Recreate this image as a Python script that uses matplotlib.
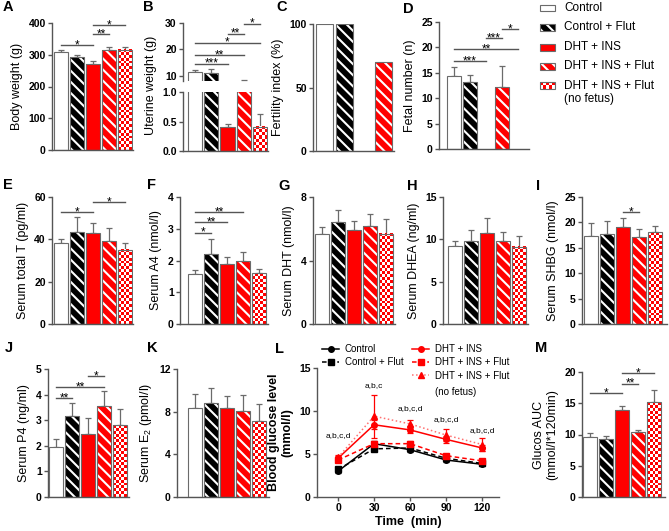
import numpy as np
import matplotlib
matplotlib.use("Agg")
import matplotlib.pyplot as plt
from matplotlib.colors import ListedColormap

plt.rcParams['font.family'] = ['Liberation Sans', 'DejaVu Sans']
plt.rcParams['hatch.linewidth'] = 1.5
plt.rcParams['mathtext.default'] = 'regular'

W, H = 669, 531
EDGE = '#6b6b6b'
AXC = '#555555'
RED = '#ff0000'

# groups / bar styles
groups = ["Control", "Control + Flut", "DHT + INS", "DHT + INS + Flut", "DHT + INS + Flut\n(no fetus)"]
styles = ["ctrl", "ctrl_flut", "dht", "dht_flut", "nofetus"]

# bar panel data (mean, SEM)
body_w = [308, 292, 270, 316, 316]
body_w_err = [8, 8, 9, 8, 8]
uter_w = [11.5, 11.1, 0.41, 2.0, 0.41]
uter_w_err = [0.6, 1.4, 0.05, 6.5, 0.21]
fert_idx = [100, 100, None, 70]
fetal_n = [14.4, 13.2, None, 12.2, None]
fetal_n_err = [1.8, 1.4, None, 4.1, None]
total_t = [38.3, 43.5, 43.1, 39.3, 35.0]
total_t_err = [1.8, 7.1, 4.5, 6.2, 3.4]
a4 = [1.57, 2.2, 1.89, 2.0, 1.6]
a4_err = [0.12, 0.48, 0.22, 0.28, 0.14]
dht_s = [5.66, 6.4, 5.9, 6.2, 5.7]
dht_s_err = [0.45, 0.8, 0.6, 0.7, 0.9]
dhea = [9.2, 9.8, 10.7, 9.8, 9.1]
dhea_err = [0.6, 1.3, 1.8, 1.1, 1.3]
shbg = [17.3, 17.7, 19.1, 17.1, 18.1]
shbg_err = [2.6, 2.6, 1.8, 1.6, 1.2]
p4 = [1.96, 3.17, 2.46, 3.57, 2.8]
p4_err = [0.31, 0.5, 0.62, 0.59, 0.64]
e2 = [8.3, 8.8, 8.3, 8.1, 7.1]
e2_err = [1.4, 1.4, 1.2, 1.5, 1.6]
auc = [9.6, 9.3, 13.9, 10.4, 15.2]
auc_err = [0.6, 0.5, 0.6, 0.3, 2.0]

# glucose tolerance test
time_min = [0, 30, 60, 90, 120]
glc_ctrl = [3.0, 6.2, 5.5, 4.3, 3.8]
glc_ctrl_err = [0.2, 0.3, 0.3, 0.2, 0.2]
glc_ctrl_flut = [3.2, 5.6, 5.7, 4.5, 3.9]
glc_ctrl_flut_err = [0.2, 0.3, 0.3, 0.2, 0.2]
glc_dht = [4.5, 8.4, 7.8, 6.7, 5.7]
glc_dht_err = [0.3, 0.5, 0.4, 0.4, 0.4]
glc_dht_flut = [4.3, 6.2, 6.2, 4.8, 4.2]
glc_dht_flut_err = [0.2, 0.3, 0.3, 0.2, 0.2]
glc_nofetus = [4.6, 9.4, 8.5, 7.2, 6.1]
glc_nofetus_err = [0.3, 2.5, 0.5, 0.7, 0.8]
glc_letters = ["a,b,c,d", "a,b,c", "a,b,c,d", "a,b,c,d", "a,b,c,d"]
glc_letters_y = [6.7, 12.5, 9.9, 8.6, 7.3]

# significance brackets (group1, group2, level, stars)
sig_body = [(0, 2, 331, '*'), (2, 3, 365, '**'), (2, 4, 394, '*')]
sig_uter = [(0, 2, 14.5, '***'), (0, 3, 17.9, '**'), (0, 4, 22.5, '*'), (2, 3, 26, '**'), (3, 4, 29.8, '*')]
sig_fetal = [(0, 2, 17.3, '***'), (0, 4, 19.7, '**'), (2, 3, 21.8, '***'), (3, 4, 23.6, '*')]
sig_t = [(0, 2, 52.8, '*'), (2, 4, 57.6, '*')]
sig_a4 = [(0, 1, 2.87, '*'), (0, 2, 3.2, '**'), (0, 3, 3.53, '**')]
sig_shbg = [(2, 3, 22, '*')]
sig_p4 = [(0, 1, 3.87, '**'), (0, 3, 4.3, '**'), (2, 3, 4.73, '*')]
sig_auc = [(0, 2, 16.6, '*'), (2, 3, 18.1, '**'), (2, 4, 19.8, '*')]


def px_axes(fig, left, top, right, bottom):
    return fig.add_axes([left / W, 1 - bottom / H, (right - left) / W, (bottom - top) / H])


def style_axes(ax, xlim, ylim, yticks, fmt="{:g}"):
    ax.set_xlim(*xlim)
    ax.set_ylim(*ylim)
    ax.set_yticks(yticks, labels=[fmt.format(t) for t in yticks], fontweight='bold')
    ax.set_xticks([])
    for s in ['top', 'right']:
        ax.spines[s].set_visible(False)
    for s in ['left', 'bottom']:
        ax.spines[s].set_color(AXC)
        ax.spines[s].set_linewidth(1)
    ax.tick_params(axis='y', colors=AXC, labelcolor='black', length=3, width=1, labelsize=7.5, pad=1.5)
    ax.patch.set_alpha(0)


def draw_bar(ax, x, h, w, style, bottom=0):
    face = {'ctrl': 'white', 'ctrl_flut': 'black', 'dht': RED, 'dht_flut': RED, 'nofetus': RED}[style]
    if style in ('ctrl_flut', 'dht_flut'):
        ax.bar(x, h, w, bottom=bottom, color=face, edgecolor='white', hatch='\\' * 3, linewidth=0, zorder=2)
    elif style == 'nofetus':
        # checkerboard fill, ~3 px cells
        x0, y0 = ax.transData.transform((x - w / 2, bottom))
        x1, y1 = ax.transData.transform((x + w / 2, bottom + h))
        nx = max(1, int(round(abs(x1 - x0) / 2.9)))
        ny = max(1, int(round(abs(y1 - y0) / 2.9)))
        board = np.indices((ny, nx)).sum(axis=0) % 2
        ax.imshow(board, cmap=ListedColormap([RED, 'white']), extent=(x - w / 2, x + w / 2, bottom, bottom + h),
                  origin='lower', aspect='auto', interpolation='nearest', zorder=2)
    else:
        ax.bar(x, h, w, bottom=bottom, color=face, linewidth=0, zorder=2)
    ax.bar(x, h, w, bottom=bottom, fill=False, edgecolor=EDGE, linewidth=0.8, zorder=3)


def bar_panel(ax, vals, errs=None, width=0.87):
    for i, v in enumerate(vals):
        if v is None:
            continue
        draw_bar(ax, i, v, width, styles[i])
        if errs is not None and errs[i]:
            ax.errorbar(i, v, yerr=[[0], [errs[i]]], fmt='none', ecolor=EDGE, elinewidth=0.9,
                        capsize=2.5, capthick=0.9, zorder=1.5)


def add_sig(ax, sigs):
    for g1, g2, y, txt in sigs:
        ax.plot([g1, g2], [y, y], color=AXC, lw=1, clip_on=False, zorder=4)
        ax.annotate(txt, xy=((g1 + g2) / 2, y), xytext=(0, -2.2), textcoords='offset points',
                    ha='center', va='baseline', fontsize=8.5, annotation_clip=False)


fig = plt.figure(figsize=(W / 100, H / 100), dpi=100)

# A
ax = px_axes(fig, 52, 23, 133, 150)
style_axes(ax, (-0.56, 4.5), (0, 400), [0, 100, 200, 300, 400])
bar_panel(ax, body_w, body_w_err)
add_sig(ax, sig_body)
ax.set_ylabel("Body weight (g)", fontsize=9)

# B (broken axis)
axu = px_axes(fig, 183, 23, 268, 81)
axl = px_axes(fig, 183, 92, 268, 151)
style_axes(axu, (-0.75, 4.5), (8, 30), [10, 20, 30])
axu.spines['bottom'].set_visible(False)
style_axes(axl, (-0.75, 4.5), (0, 1), [0, 0.5, 1.0], fmt="{:.1f}")
bar_panel(axu, uter_w, uter_w_err)
bar_panel(axl, uter_w, uter_w_err)
add_sig(axu, sig_uter)
fig.text(151 / W, 1 - 85 / H, "Uterine weight (g)", rotation=90, ha='center', va='center', fontsize=9)

# C
ax = px_axes(fig, 313, 24, 394, 151)
style_axes(ax, (-0.6, 3.54), (0, 100), [0, 50, 100])
bar_panel(ax, fert_idx)
ax.set_ylabel("Fertility index (%)", fontsize=9)

# D
ax = px_axes(fig, 439, 22, 529, 149)
style_axes(ax, (-0.94, 4.69), (0, 25), [0, 5, 10, 15, 20, 25])
bar_panel(ax, fetal_n, fetal_n_err)
add_sig(ax, sig_fetal)
ax.set_ylabel("Fetal number (n)", fontsize=9)

# E
ax = px_axes(fig, 52, 197, 133, 324)
style_axes(ax, (-0.56, 4.5), (0, 60), [0, 20, 40, 60])
bar_panel(ax, total_t, total_t_err)
add_sig(ax, sig_t)
ax.set_ylabel("Serum total T (pg/ml)", fontsize=9)

# F
ax = px_axes(fig, 180, 197, 268, 324)
style_axes(ax, (-0.94, 4.56), (0, 4), [0, 1, 2, 3, 4])
bar_panel(ax, a4, a4_err)
add_sig(ax, sig_a4)
ax.set_ylabel("Serum A4 (nmol/l)", fontsize=9)

# G
ax = px_axes(fig, 313, 197, 395, 324)
style_axes(ax, (-0.56, 4.56), (0, 8), [0, 4, 8])
bar_panel(ax, dht_s, dht_s_err)
ax.set_ylabel("Serum DHT (nmol/l)", fontsize=9)

# H
ax = px_axes(fig, 443, 197, 528, 324)
style_axes(ax, (-0.75, 4.56), (0, 15), [0, 5, 10, 15])
bar_panel(ax, dhea, dhea_err)
ax.set_ylabel("Serum DHEA (ng/ml)", fontsize=9)

# I
ax = px_axes(fig, 582, 197, 667, 324)
style_axes(ax, (-0.56, 4.75), (0, 25), [0, 5, 10, 15, 20, 25])
bar_panel(ax, shbg, shbg_err)
add_sig(ax, sig_shbg)
ax.set_ylabel("Serum SHBG (nmol/l)", fontsize=9)

# J
ax = px_axes(fig, 48, 369, 129, 497)
style_axes(ax, (-0.5, 4.56), (0, 5), [0, 1, 2, 3, 4, 5])
bar_panel(ax, p4, p4_err)
add_sig(ax, sig_p4)
ax.set_ylabel("Serum P4 (ng/ml)", fontsize=9)

# K
ax = px_axes(fig, 177, 369, 269, 497)
style_axes(ax, (-1.1, 4.6), (0, 12), [0, 4, 8, 12])
bar_panel(ax, e2, e2_err)
ax.set_ylabel("Serum E$_2$ (pmol/l)", fontsize=9)

# L - glucose curves
ax = px_axes(fig, 317, 368, 499, 497)
style_axes(ax, (-17.5, 134), (0, 15), [0, 5, 10, 15])
ax.set_xticks(time_min, labels=[str(t) for t in time_min], fontweight='bold')
ax.tick_params(axis='x', colors=AXC, labelcolor='black', length=3, width=1, labelsize=7.5, pad=1.5)
series = [
    (glc_ctrl, glc_ctrl_err, 'black', 'black', 'o', '-'),
    (glc_ctrl_flut, glc_ctrl_flut_err, 'black', 'black', 's', (0, (3, 2))),
    (glc_dht, glc_dht_err, RED, RED, 'o', '-'),
    (glc_dht_flut, glc_dht_flut_err, RED, RED, 's', (0, (3, 2))),
    (glc_nofetus, glc_nofetus_err, '#ff7070', RED, '^', ':'),
]
handles = []
for y, e, lc, mc, mk, ls in series:
    ln, = ax.plot(time_min, y, color=lc, ls=ls, lw=1.1, marker=mk, ms=4, mfc=mc, mec=mc, zorder=3)
    ax.errorbar(time_min, y, yerr=e, fmt='none', ecolor=mc, elinewidth=0.9, capsize=2, capthick=0.9, zorder=2)
    handles.append(ln)
for t, lab, yy in zip(time_min, glc_letters, glc_letters_y):
    ax.text(t, yy, lab, ha='center', va='bottom', fontsize=6)
leg_kw = dict(loc='upper left', bbox_transform=fig.transFigure, frameon=False, fontsize=7,
              handlelength=1.75, handletextpad=0.6, labelspacing=0.35, borderpad=0, borderaxespad=0)
leg1 = ax.legend(handles[:2], groups[:2], bbox_to_anchor=(322 / W, 1 - 344 / H), **leg_kw)
ax.add_artist(leg1)
glc_labels = [g.split("\n")[0] for g in groups[2:]]
ax.legend(handles[2:], glc_labels, bbox_to_anchor=(412 / W, 1 - 344 / H), **leg_kw)
fig.text(435 / W, 1 - 392 / H, groups[4].split("\n")[1], fontsize=7, va='center', ha='left')
ax.set_xlabel("Time  (min)", fontsize=9, fontweight='bold', labelpad=2)
ax.set_ylabel("Blood glucose level\n(mmol/l)", fontsize=9, fontweight='bold')

# M
ax = px_axes(fig, 582, 372, 665, 497)
style_axes(ax, (-0.5, 4.7), (0, 20), [0, 5, 10, 15, 20])
bar_panel(ax, auc, auc_err)
add_sig(ax, sig_auc)
ax.set_ylabel("Glucos AUC\n(mmol/l*120min)", fontsize=9)

# legend for bar groups (top right)
lax = px_axes(fig, 535, 0, 669, 110)
lax.set_xlim(535, 669)
lax.set_ylim(110, 0)
lax.axis('off')
for k, (g, s) in enumerate(zip(groups, styles)):
    yc = 8 + k * 19.5
    draw_bar(lax, 547.5, 7, 15, s, bottom=yc - 3.5)
    for j, line in enumerate(g.split("\n")):
        lax.text(564, yc + j * 13.5, line, va='center', ha='left', fontsize=8.5)

# panel letters
letters = [("A", 3, 0), ("B", 143, 0), ("C", 276, 0), ("D", 403, 2),
           ("E", 3, 178), ("F", 147, 178), ("G", 278, 179), ("H", 407, 179), ("I", 536, 179),
           ("J", 5, 341), ("K", 147, 341), ("L", 275, 342), ("M", 535, 341)]
for lt, x, y in letters:
    fig.text(x / W, 1 - y / H, lt, fontsize=10.5, fontweight='bold', va='top', ha='left')

fig.savefig("out.png", dpi=100)
